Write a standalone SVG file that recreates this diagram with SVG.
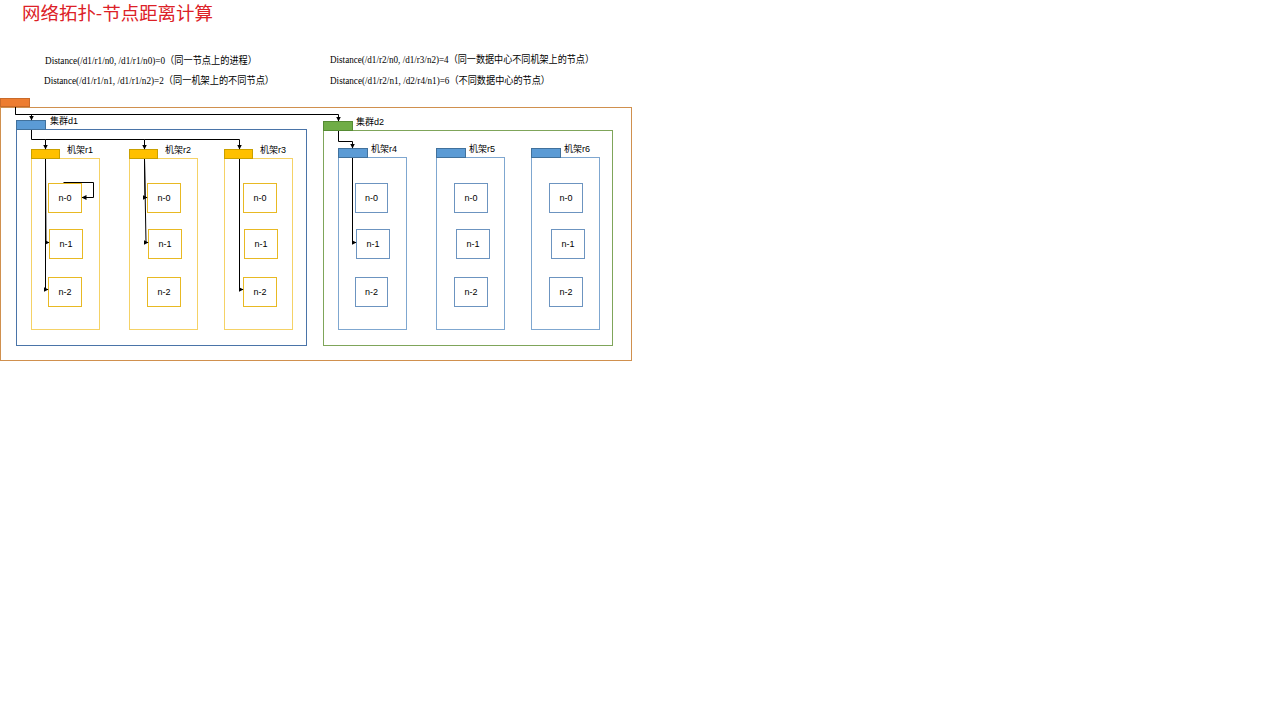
<svg xmlns="http://www.w3.org/2000/svg" width="1280" height="725" viewBox="0 0 1280 725">
<defs>
<marker id="arr" viewBox="0 0 10 10" refX="9" refY="5" markerWidth="5" markerHeight="5" orient="auto" markerUnits="userSpaceOnUse">
<path d="M0,0 L10,5 L0,10 z" fill="#000"/>
</marker>
<style>
.title{font-family:"Noto Sans CJK SC","Liberation Sans",sans-serif;font-size:18px;fill:#DC2127}
.dist{font-family:"Liberation Serif","Noto Sans CJK SC",serif;font-size:10px;fill:#000}
.lbl{font-family:"Liberation Sans","Noto Sans CJK SC",sans-serif;font-size:9px;fill:#000}
.nt{font-family:"Liberation Sans","Noto Sans CJK SC",sans-serif;font-size:9px;fill:#000;text-anchor:middle}
.ybox{fill:#fff;stroke:#F5D266;stroke-width:1}
.ytab{fill:#FFC000;stroke:#C9A000;stroke-width:1}
.ynode{fill:#fff;stroke:#E8B923;stroke-width:1}
.bbox{fill:#fff;stroke:#7FA7D0;stroke-width:1}
.btab{fill:#5B9BD5;stroke:#41719C;stroke-width:1}
.bnode{fill:#fff;stroke:#6C94C0;stroke-width:1}
.conn path{fill:none;stroke:#000;stroke-width:1;marker-end:url(#arr)}
</style>
</defs>
<rect width="1280" height="725" fill="#fff"/>
<text class="title" x="22" y="20" textLength="191" lengthAdjust="spacingAndGlyphs">网络拓扑-节点距离计算</text>
<text class="dist" x="45" y="64" textLength="212" lengthAdjust="spacingAndGlyphs">Distance(/d1/r1/n0, /d1/r1/n0)=0（同一节点上的进程）</text>
<text class="dist" x="44" y="84" textLength="230" lengthAdjust="spacingAndGlyphs">Distance(/d1/r1/n1, /d1/r1/n2)=2（同一机架上的不同节点）</text>
<text class="dist" x="330" y="63" textLength="264" lengthAdjust="spacingAndGlyphs">Distance(/d1/r2/n0, /d1/r3/n2)=4（同一数据中心不同机架上的节点）</text>
<text class="dist" x="330" y="84" textLength="220" lengthAdjust="spacingAndGlyphs">Distance(/d1/r2/n1, /d2/r4/n1)=6（不同数据中心的节点）</text>

<g id="root">
<rect x="0.5" y="107.5" width="631" height="253" fill="#fff" stroke="#D0904E"/>
<rect x="0.5" y="98.5" width="29" height="8" fill="#ED7D31" stroke="#C96A2A"/>
</g>

<g id="d1">
<rect x="16.5" y="129.5" width="290" height="216" fill="#fff" stroke="#4A74A8"/>
<rect x="16.5" y="120.5" width="29" height="9" class="btab"/>
<text class="lbl" x="50" y="124">集群d1</text>
</g>
<g id="d2">
<rect x="323.5" y="130.5" width="289" height="215" fill="#fff" stroke="#7FA55A"/>
<rect x="323.5" y="121.5" width="29" height="9" fill="#70AD47" stroke="#558B33"/>
<text class="lbl" x="356" y="125">集群d2</text>
</g>

<g id="r1">
<rect class="ybox" x="31.5" y="158.5" width="68" height="171"/>
<rect class="ytab" x="31.5" y="149.5" width="28" height="9"/>
<text class="lbl" x="67" y="153">机架r1</text>
</g>
<g id="r2">
<rect class="ybox" x="129.5" y="158.5" width="68" height="171"/>
<rect class="ytab" x="129.5" y="149.5" width="28" height="9"/>
<text class="lbl" x="165" y="153">机架r2</text>
</g>
<g id="r3">
<rect class="ybox" x="224.5" y="158.5" width="68" height="171"/>
<rect class="ytab" x="224.5" y="149.5" width="28" height="9"/>
<text class="lbl" x="260" y="153">机架r3</text>
</g>
<g id="r4">
<rect class="bbox" x="338.5" y="157.5" width="68" height="172"/>
<rect class="btab" x="338.5" y="148.5" width="29" height="9"/>
<text class="lbl" x="371" y="152">机架r4</text>
</g>
<g id="r5">
<rect class="bbox" x="436.5" y="157.5" width="68" height="172"/>
<rect class="btab" x="436.5" y="148.5" width="29" height="9"/>
<text class="lbl" x="469" y="152">机架r5</text>
</g>
<g id="r6">
<rect class="bbox" x="531.5" y="157.5" width="68" height="172"/>
<rect class="btab" x="531.5" y="148.5" width="29" height="9"/>
<text class="lbl" x="564" y="152">机架r6</text>
</g>

<g id="r1-n0"><rect class="ynode" x="48.5" y="183.5" width="33" height="29"/><text class="nt" x="65" y="201">n-0</text></g>
<g id="r1-n1"><rect class="ynode" x="49.5" y="229.5" width="33" height="29"/><text class="nt" x="66" y="247">n-1</text></g>
<g id="r1-n2"><rect class="ynode" x="48.5" y="277.5" width="33" height="29"/><text class="nt" x="65" y="295">n-2</text></g>
<g id="r2-n0"><rect class="ynode" x="147.5" y="183.5" width="33" height="29"/><text class="nt" x="164" y="201">n-0</text></g>
<g id="r2-n1"><rect class="ynode" x="148.5" y="229.5" width="33" height="29"/><text class="nt" x="165" y="247">n-1</text></g>
<g id="r2-n2"><rect class="ynode" x="147.5" y="277.5" width="33" height="29"/><text class="nt" x="164" y="295">n-2</text></g>
<g id="r3-n0"><rect class="ynode" x="243.5" y="183.5" width="33" height="29"/><text class="nt" x="260" y="201">n-0</text></g>
<g id="r3-n1"><rect class="ynode" x="244.5" y="229.5" width="33" height="29"/><text class="nt" x="261" y="247">n-1</text></g>
<g id="r3-n2"><rect class="ynode" x="243.5" y="277.5" width="33" height="29"/><text class="nt" x="260" y="295">n-2</text></g>
<g id="r4-n0"><rect class="bnode" x="355.5" y="183.5" width="32" height="29"/><text class="nt" x="371.5" y="201">n-0</text></g>
<g id="r4-n1"><rect class="bnode" x="356.5" y="229.5" width="33" height="29"/><text class="nt" x="373" y="247">n-1</text></g>
<g id="r4-n2"><rect class="bnode" x="355.5" y="277.5" width="32" height="29"/><text class="nt" x="371.5" y="295">n-2</text></g>
<g id="r5-n0"><rect class="bnode" x="454.5" y="183.5" width="33" height="29"/><text class="nt" x="471" y="201">n-0</text></g>
<g id="r5-n1"><rect class="bnode" x="456.5" y="229.5" width="33" height="29"/><text class="nt" x="473" y="247">n-1</text></g>
<g id="r5-n2"><rect class="bnode" x="454.5" y="277.5" width="33" height="29"/><text class="nt" x="471" y="295">n-2</text></g>
<g id="r6-n0"><rect class="bnode" x="549.5" y="183.5" width="33" height="29"/><text class="nt" x="566" y="201">n-0</text></g>
<g id="r6-n1"><rect class="bnode" x="551.5" y="229.5" width="33" height="29"/><text class="nt" x="568" y="247">n-1</text></g>
<g id="r6-n2"><rect class="bnode" x="549.5" y="277.5" width="33" height="29"/><text class="nt" x="566" y="295">n-2</text></g>

<g id="connectors" class="conn">
<path d="M15.5 107 V114.5 H31.5 V120"/>
<path d="M15.5 114.5 H338.5 V121"/>
<path d="M31.5 130 V139.5 H45.5 V149"/>
<path d="M45.5 139.5 H144.5 V149"/>
<path d="M144.5 139.5 H239.5 V149"/>
<path d="M338.5 131 V141.5 H352.5 V148"/>
<path d="M63.5 182.5 H93.5 V197.5 H82"/>
<path d="M45.5 159 L46 242.5 H49"/>
<path d="M45.5 159 L45.5 289.5 H48"/>
<path d="M144.5 159 L145 197.5 H147"/>
<path d="M144.5 159 L146 242.5 H148"/>
<path d="M239.5 159 L239.5 289.5 H243"/>
<path d="M352.5 158 V242.5 H356"/>
</g>
</svg>
